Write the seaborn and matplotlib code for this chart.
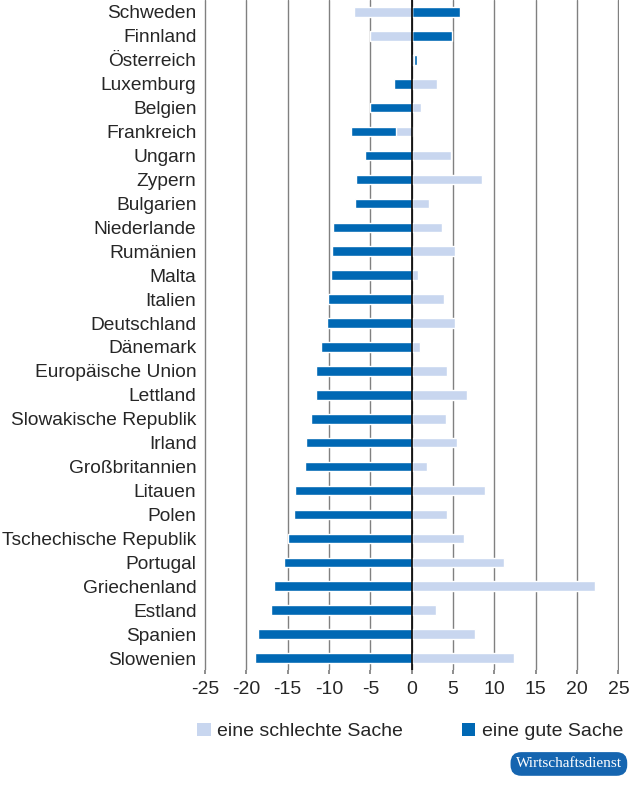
import matplotlib
matplotlib.use("Agg")
import matplotlib.pyplot as plt
from matplotlib.patches import Patch
import pandas as pd
import seaborn as sns

# Länder von oben nach unten
countries = [
    "Schweden", "Finnland", "Österreich", "Luxemburg", "Belgien", "Frankreich",
    "Ungarn", "Zypern", "Bulgarien", "Niederlande", "Rumänien", "Malta",
    "Italien", "Deutschland", "Dänemark", "Europäische Union", "Lettland",
    "Slowakische Republik", "Irland", "Großbritannien", "Litauen", "Polen",
    "Tschechische Republik", "Portugal", "Griechenland", "Estland", "Spanien",
    "Slowenien",
]
# Veränderung "eine gute Sache"
gute_sache = [
    5.9, 4.9, 0.7, -2.1, -5.0, -7.3,
    -5.6, -6.7, -6.9, -9.5, -9.6, -9.7,
    -10.1, -10.2, -11.0, -11.6, -11.6,
    -12.2, -12.8, -12.9, -14.1, -14.2,
    -14.9, -15.5, -16.7, -17.0, -18.6,
    -18.9,
]
# Veränderung "eine schlechte Sache"
schlechte_sache = [
    -7.0, -5.1, 0.25, 3.0, 1.1, -1.9,
    4.8, 8.5, 2.1, 3.7, 5.2, 0.8,
    3.9, 5.2, 1.0, 4.3, 6.7,
    4.2, 5.5, 1.9, 8.9, 4.3,
    6.3, 11.2, 22.2, 2.9, 7.6,
    12.4,
]
x_ticks = [-25, -20, -15, -10, -5, 0, 5, 10, 15, 20, 25]

dark = "#0068b4"
light = "#c8d6ef"

df = pd.DataFrame({"Land": countries, "gut": gute_sache, "schlecht": schlechte_sache})

sns.set_theme(style="white")
plt.rcParams["font.family"] = ["Liberation Sans", "DejaVu Sans"]

fig = plt.figure(figsize=(6.3, 7.85), dpi=100)
ax = fig.add_axes([0.324, 0.1465, 0.659, 0.8535])

# dunkle Balken zuerst, helle darüber
sns.barplot(data=df, x="gut", y="Land", order=countries, color=dark,
            saturation=1, width=0.4, orient="h", ax=ax)
sns.barplot(data=df, x="schlecht", y="Land", order=countries, color=light,
            saturation=1, width=0.4, orient="h", ax=ax)

ax.set_xlim(-25.1, 25.1)
ax.set_xticks(x_ticks)
ax.set_xticklabels([str(t) for t in x_ticks])
ax.set_xlabel("")
ax.set_ylabel("")
ax.set_axisbelow(True)
ax.grid(axis="x", color="#808080", linewidth=1)
ax.axvline(0, color="black", linewidth=1.2, zorder=5)
for s in ax.spines.values():
    s.set_visible(False)
ax.tick_params(axis="x", bottom=True, length=3, color="#808080",
               labelsize=14, pad=5)
ax.tick_params(axis="y", left=False, length=0, labelsize=13.8, pad=5.5)

handles = [Patch(facecolor=light, edgecolor="none"),
           Patch(facecolor=dark, edgecolor="none")]
fig.legend(handles, ["eine schlechte Sache", "eine gute Sache"],
           loc="center", bbox_to_anchor=(0.651, 0.068), ncol=2, frameon=False,
           fontsize=14, handlelength=0.7, handleheight=0.7,
           handletextpad=0.35, columnspacing=3.0)

fig.text(0.903, 0.0268, "Wirtschaftsdienst", ha="center", va="center",
         color="white", fontsize=11, family=["Liberation Serif", "DejaVu Serif"],
         bbox=dict(boxstyle="round,pad=0.35,rounding_size=0.7",
                   facecolor="#1565b0", edgecolor="none"))

fig.savefig("out.png", dpi=100)
